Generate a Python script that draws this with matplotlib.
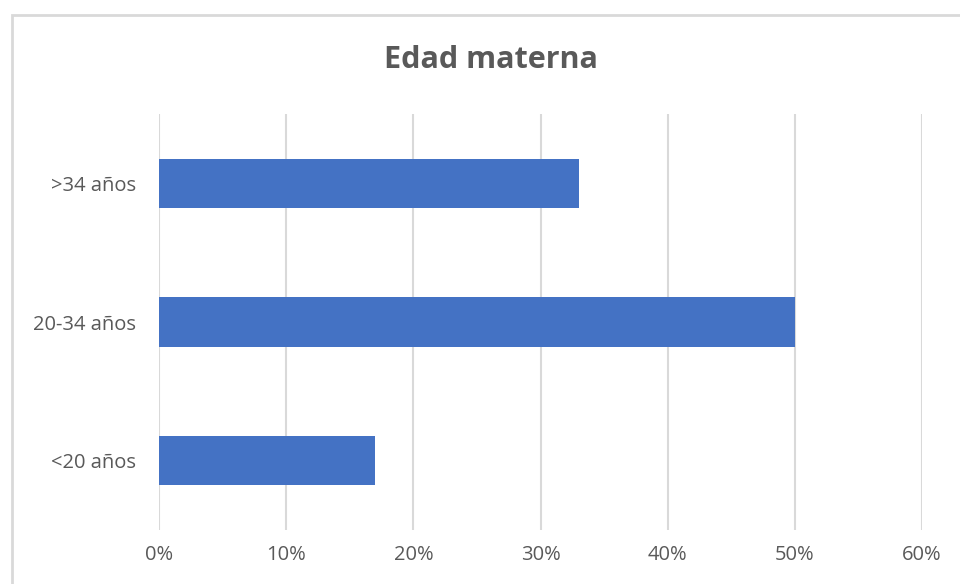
import matplotlib
matplotlib.use('Agg')
import matplotlib.pyplot as plt
from matplotlib.patches import Rectangle
from matplotlib.ticker import PercentFormatter

# data
categories = ['<20 años', '20-34 años', '>34 años']
values = [0.17, 0.50, 0.33]
x_ticks = [0, 0.1, 0.2, 0.3, 0.4, 0.5, 0.6]
title = 'Edad materna'

bar_color = '#4472C4'
grid_color = '#D9D9D9'
text_color = '#595959'

plt.rcParams['font.family'] = ['Open Sans', 'DejaVu Sans']

fig = plt.figure(figsize=(9.6, 5.84), dpi=100)
ax = fig.add_axes([159 / 960, 1 - 530 / 584, (922 - 159) / 960, (530 - 114) / 584])

ax.barh(range(len(categories)), values, height=0.355, color=bar_color, zorder=3)

ax.set_xlim(0, 0.6)
ax.set_ylim(-0.5, len(categories) - 0.5)
ax.set_xticks(x_ticks)
ax.xaxis.set_major_formatter(PercentFormatter(1.0, decimals=0))
ax.set_yticks(range(len(categories)))
ax.set_yticklabels(categories)
ax.tick_params(axis='both', length=0, labelsize=14.5, colors=text_color)
ax.tick_params(axis='x', pad=11)
ax.tick_params(axis='y', pad=16.5)
ax.grid(axis='x', color=grid_color, linewidth=1.5, zorder=0)
for spine in ax.spines.values():
    spine.set_visible(False)

# chart border, like the excel chart area
border = Rectangle((12 / 960, -0.1), 1.2, 1 - 15 / 584 + 0.1, transform=fig.transFigure,
                   fill=False, edgecolor=grid_color, linewidth=2, clip_on=False)
fig.add_artist(border)

fig.text(491 / 960, 1 - 60 / 584, title, ha='center', va='center',
         fontsize=22, fontweight='bold', color=text_color)

fig.savefig('out.png', dpi=100)
